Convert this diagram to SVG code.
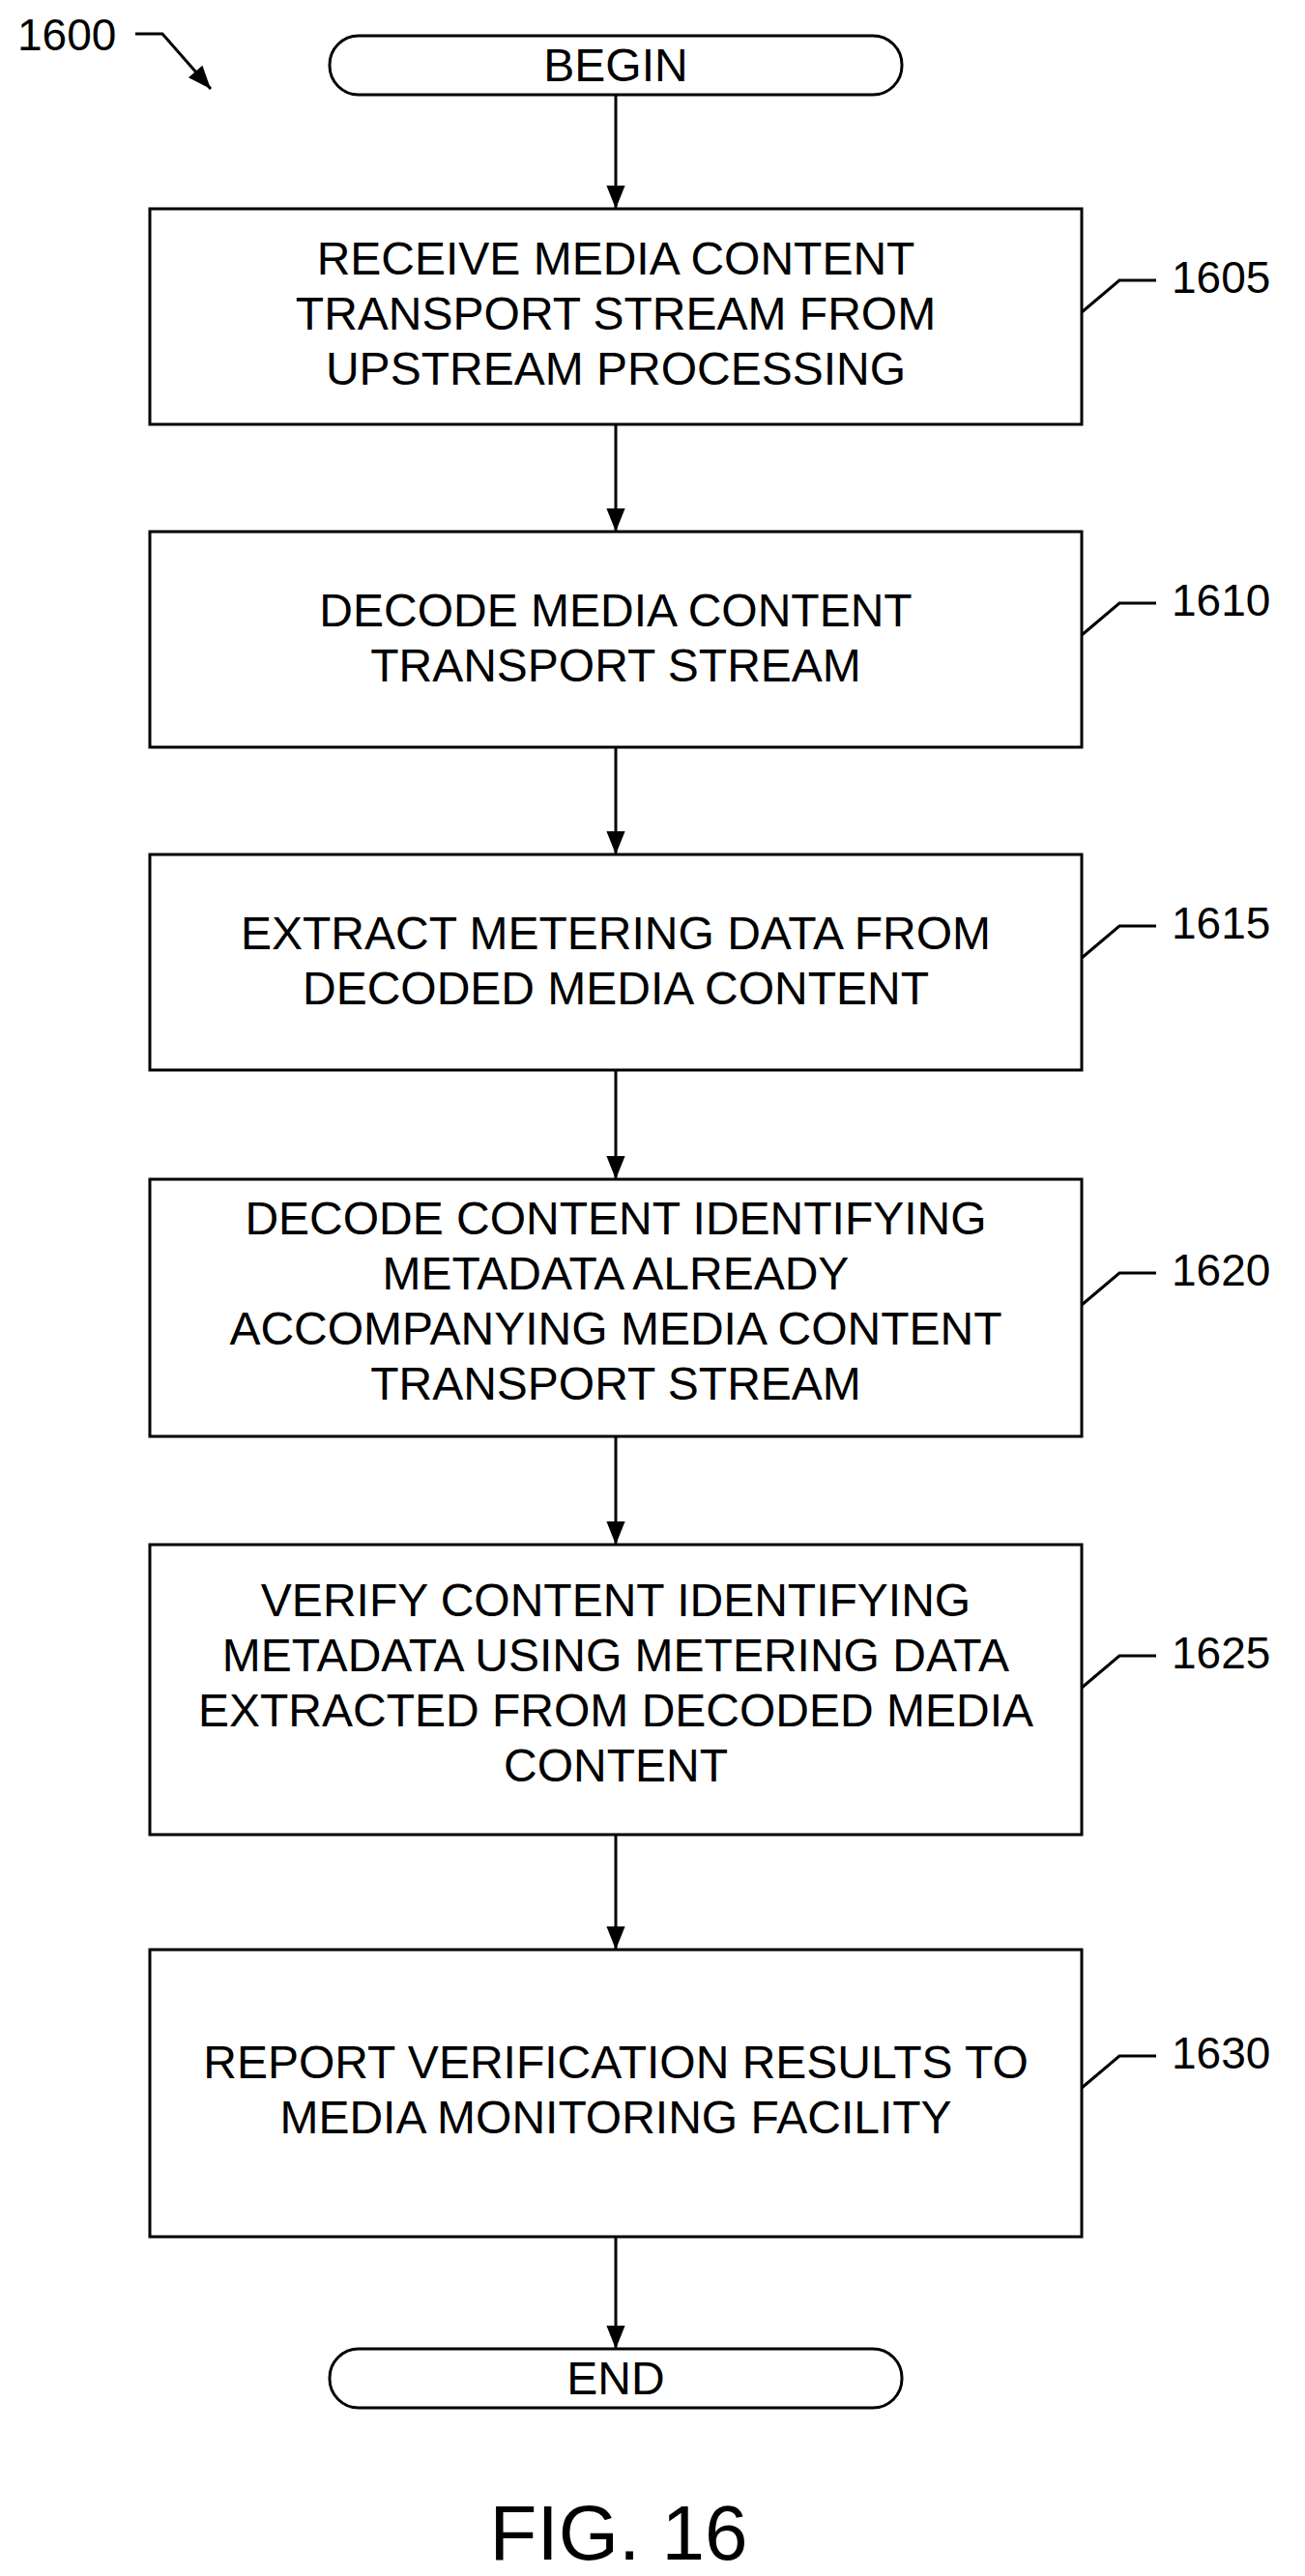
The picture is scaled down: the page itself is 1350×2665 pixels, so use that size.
<svg xmlns="http://www.w3.org/2000/svg" width="1350" height="2665" viewBox="0 0 1350 2665">
<style>
.b{fill:#fff;stroke:#000;stroke-width:3}
.t{font-family:"Liberation Sans",Arial,sans-serif;font-size:48px;text-anchor:middle;fill:#000}
.l{font-family:"Liberation Sans",Arial,sans-serif;font-size:46px;fill:#000}
.c{stroke:#000;stroke-width:3;fill:none}
</style>
<defs><marker id="ah" viewBox="0 0 10 10" refX="10" refY="5" markerWidth="34" markerHeight="24" orient="auto" markerUnits="userSpaceOnUse"><path d="M0,1 L10,5 L0,9 z" fill="#000"/></marker></defs>
<g id="label1600"><text class="l" x="18" y="52">1600</text><path class="c" d="M140,35 H168 L218,92" marker-end="url(#ah)"/></g>
<g id="begin"><rect class="b" x="341" y="37" width="592" height="61" rx="30"/><text class="t" x="637" y="84">BEGIN</text></g>
<g id="n1605"><rect class="b" x="155" y="216" width="964" height="223"/><text class="t" x="637" y="284">RECEIVE MEDIA CONTENT</text><text class="t" x="637" y="341">TRANSPORT STREAM FROM</text><text class="t" x="637" y="398">UPSTREAM PROCESSING</text><path class="c" d="M1119,323 L1158,290 H1196"/><text class="l" x="1212" y="303">1605</text></g>
<g id="n1610"><rect class="b" x="155" y="550" width="964" height="223"/><text class="t" x="637" y="648">DECODE MEDIA CONTENT</text><text class="t" x="637" y="705">TRANSPORT STREAM</text><path class="c" d="M1119,657 L1158,624 H1196"/><text class="l" x="1212" y="637">1610</text></g>
<g id="n1615"><rect class="b" x="155" y="884" width="964" height="223"/><text class="t" x="637" y="982">EXTRACT METERING DATA FROM</text><text class="t" x="637" y="1039">DECODED MEDIA CONTENT</text><path class="c" d="M1119,991 L1158,958 H1196"/><text class="l" x="1212" y="971">1615</text></g>
<g id="n1620"><rect class="b" x="155" y="1220" width="964" height="266"/><text class="t" x="637" y="1277">DECODE CONTENT IDENTIFYING</text><text class="t" x="637" y="1334">METADATA ALREADY</text><text class="t" x="637" y="1391">ACCOMPANYING MEDIA CONTENT</text><text class="t" x="637" y="1448">TRANSPORT STREAM</text><path class="c" d="M1119,1350 L1158,1317 H1196"/><text class="l" x="1212" y="1330">1620</text></g>
<g id="n1625"><rect class="b" x="155" y="1598" width="964" height="300"/><text class="t" x="637" y="1672">VERIFY CONTENT IDENTIFYING</text><text class="t" x="637" y="1729">METADATA USING METERING DATA</text><text class="t" x="637" y="1786">EXTRACTED FROM DECODED MEDIA</text><text class="t" x="637" y="1843">CONTENT</text><path class="c" d="M1119,1746 L1158,1713 H1196"/><text class="l" x="1212" y="1726">1625</text></g>
<g id="n1630"><rect class="b" x="155" y="2017" width="964" height="297"/><text class="t" x="637" y="2150">REPORT VERIFICATION RESULTS TO</text><text class="t" x="637" y="2207">MEDIA MONITORING FACILITY</text><path class="c" d="M1119,2160 L1158,2127 H1196"/><text class="l" x="1212" y="2140">1630</text></g>
<g id="end"><rect class="b" x="341" y="2430" width="592" height="61" rx="30"/><text class="t" x="637" y="2477">END</text></g>
<g id="connectors">
<line class="c" x1="637" y1="98" x2="637" y2="216" marker-end="url(#ah)"/>
<line class="c" x1="637" y1="439" x2="637" y2="550" marker-end="url(#ah)"/>
<line class="c" x1="637" y1="773" x2="637" y2="884" marker-end="url(#ah)"/>
<line class="c" x1="637" y1="1107" x2="637" y2="1220" marker-end="url(#ah)"/>
<line class="c" x1="637" y1="1486" x2="637" y2="1598" marker-end="url(#ah)"/>
<line class="c" x1="637" y1="1898" x2="637" y2="2017" marker-end="url(#ah)"/>
<line class="c" x1="637" y1="2314" x2="637" y2="2430" marker-end="url(#ah)"/>
</g>
<text class="t" x="640" y="2648" style="font-size:80px">FIG. 16</text>
</svg>
